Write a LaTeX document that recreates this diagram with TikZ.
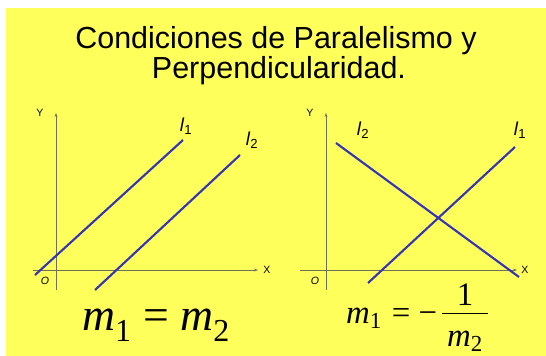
\documentclass[tikz,border=0pt]{standalone}
\usepackage{fontspec}
\setmainfont{Liberation Sans}
\newfontfamily\serifmath{Liberation Serif}
\usetikzlibrary{arrows.meta}
\definecolor{slide}{HTML}{FFFF5C}
\definecolor{lineblue}{HTML}{3434B4}
\definecolor{axisgray}{HTML}{707058}
\newcommand{\lname}[1]{\textit{l}\textsubscript{#1}}
\newcommand{\mname}[1]{\textit{m}\textsubscript{#1}}

\begin{document}
\begin{tikzpicture}[x=0.03cm,y=-0.03cm,
    axis/.style={draw=axisgray,line width=0.5pt},
    lineblue/.style={draw=lineblue,line width=1.8pt},
    axlabel/.style={font=\fontsize{9}{10}\selectfont,inner sep=0pt},
    linelabel/.style={font=\fontsize{16}{18}\selectfont,inner sep=0pt},
    titleline/.style={anchor=base,inner sep=0pt,font=\fontsize{26}{30}\selectfont},
    formula/.style={inner sep=0pt,font=\serifmath\fontsize{#1}{#1}\selectfont}]
  \useasboundingbox (0,0) rectangle (546,356);
  \fill[slide] (6,8) rectangle (546,356);
  % title
  \node[titleline] (title1) at (276,48) {Condiciones de Paralelismo y};
  \node[titleline] (title2) at (279,78) {Perpendicularidad.};
  % axes: panel / origin x / left end / right end / X label
  \foreach \p/\ox/\xa/\xb/\xl in {a/56/33/258/267, b/326/300/517/525}{
    \coordinate (\p-ytop) at (\ox,113);
    \coordinate (\p-ybot) at (\ox,290);
    \coordinate (\p-xleft) at (\xa,270);
    \coordinate (\p-xright) at (\xb,270);
    \draw[axis,-{Stealth[length=3.5pt,width=2.5pt]}] (\p-ybot) -- (\p-ytop);
    \draw[axis,-{Stealth[length=3.5pt,width=2.5pt]}] (\p-xleft) -- (\p-xright);
    \node[axlabel] (\p-Y) at (\ox-16,113) {Y};
    \node[axlabel] (\p-X) at (\xl,270) {X};
    \node[axlabel] (\p-O) at (\ox-11,281) {\textit{O}};
  }
  % parallel lines
  \coordinate (a1s) at (35,275);  \coordinate (a1e) at (183,140);
  \coordinate (a2s) at (95,290);  \coordinate (a2e) at (240,155);
  \draw[lineblue] (a1s) -- (a1e);
  \draw[lineblue] (a2s) -- (a2e);
  \node[linelabel] (a-l1) at (186,126) {\lname{1}};
  \node[linelabel] (a-l2) at (252,140) {\lname{2}};
  % perpendicular lines
  \coordinate (b2s) at (336,143); \coordinate (b2e) at (519,277);
  \coordinate (b1s) at (368,283); \coordinate (b1e) at (515,147);
  \draw[lineblue] (b2s) -- (b2e);
  \draw[lineblue] (b1s) -- (b1e);
  \node[linelabel] (b-l2) at (363,130) {\lname{2}};
  \node[linelabel] (b-l1) at (520,130) {\lname{1}};
  % conditions
  \node[formula=39,anchor=base west] (cond1) at (82,330) {\mname{1} = \mname{2}};
  \node[formula=28,anchor=base west] (cond2) at (346,323) {\mname{1}\hspace{0.3em}=\hspace{0.25em}−};
  \node[formula=28,anchor=base] (num) at (465,305) {1};
  \node[formula=28,anchor=base] (den) at (465,346) {\mname{2}};
  \coordinate (bar-l) at (442,313); \coordinate (bar-r) at (488,313);
  \draw[line width=0.6pt] (bar-l) -- (bar-r);
\end{tikzpicture}
\end{document}
